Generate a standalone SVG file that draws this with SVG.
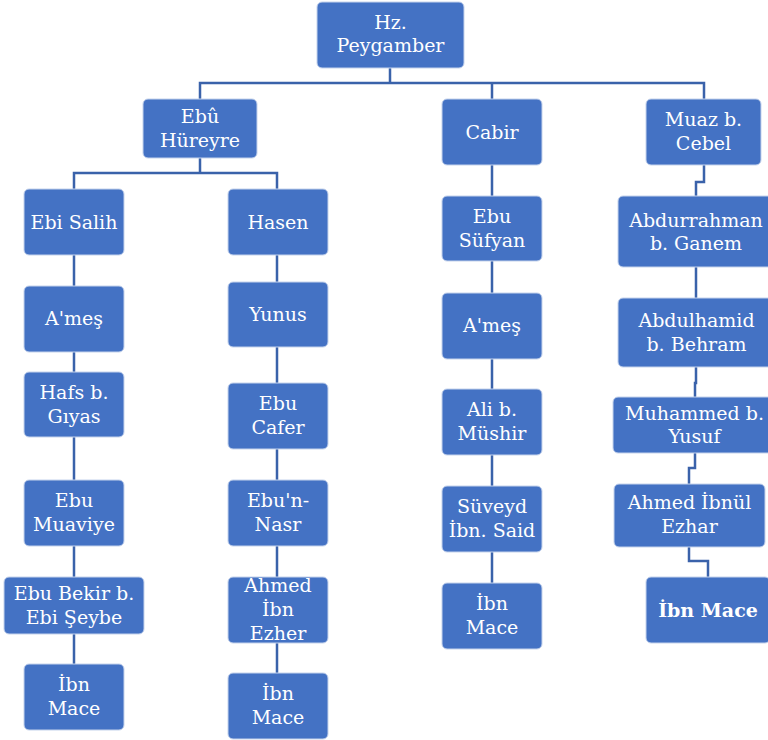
<svg xmlns="http://www.w3.org/2000/svg" width="768" height="740" viewBox="0 0 768 740">
<style>
.b{fill:#4472C4;stroke:#C5D3EC;stroke-width:1}
.t{font-family:"DejaVu Serif","Liberation Serif",serif;font-size:19px;fill:#FFFFFF;text-anchor:middle}
.bold{font-weight:bold}
.c{fill:none;stroke:#3A62AA;stroke-width:2.5}
</style>
<rect width="768" height="740" fill="#FFFFFF"/>
<g id="connectors">
<path class="c" d="M390,68 V83 M200,99 V83 H704 V99 M492,83 V99"/>
<path class="c" d="M200,158 V173 M74,189 V173 H277 V189"/>
<path class="c" d="M74,255 V286 M74,352 V372 M74,437 V480 M74,546 V577 M74,634 V664"/>
<path class="c" d="M277,255 V282 M277,347 V383 M277,449 V480 M277,546 V577 M277,643 V673"/>
<path class="c" d="M492,165 V196 M492,261 V293 M492,359 V389 M492,455 V486 M492,552 V583"/>
<path class="c" d="M704,165 V182 H696 V196 M696,267 V298 M696,367 V383 H695 V397 M695,453 V468 H689 V484 M689,547 V561 H708 V577"/>
</g>
<g id="n_root"><rect class="b" x="317" y="2" width="147" height="66" rx="5"/><text class="t" x="390.5" y="29">Hz.</text><text class="t" x="390.5" y="52">Peygamber</text></g>
<g id="n_ebu_hureyre"><rect class="b" x="143" y="99" width="114" height="59" rx="5"/><text class="t" x="200" y="123">Ebû</text><text class="t" x="200" y="147">Hüreyre</text></g>
<g id="n_cabir"><rect class="b" x="442" y="99" width="100" height="66" rx="5"/><text class="t" x="492" y="139">Cabir</text></g>
<g id="n_muaz"><rect class="b" x="646" y="99" width="115" height="66" rx="5"/><text class="t" x="703.5" y="126">Muaz b.</text><text class="t" x="703.5" y="150">Cebel</text></g>

<g id="n_ebi_salih"><rect class="b" x="24" y="189" width="100" height="66" rx="5"/><text class="t" x="74" y="229">Ebi Salih</text></g>
<g id="n_ames1"><rect class="b" x="24" y="286" width="100" height="66" rx="5"/><text class="t" x="74" y="325">A'meş</text></g>
<g id="n_hafs"><rect class="b" x="24" y="372" width="100" height="65" rx="5"/><text class="t" x="74" y="399">Hafs b.</text><text class="t" x="74" y="423">Gıyas</text></g>
<g id="n_ebu_muaviye"><rect class="b" x="24" y="480" width="100" height="66" rx="5"/><text class="t" x="74" y="507">Ebu</text><text class="t" x="74" y="531">Muaviye</text></g>
<g id="n_ebu_bekir"><rect class="b" x="4" y="577" width="140" height="57" rx="5"/><text class="t" x="74" y="600">Ebu Bekir b.</text><text class="t" x="74" y="624">Ebi Şeybe</text></g>
<g id="n_ibn_mace1"><rect class="b" x="24" y="664" width="100" height="66" rx="5"/><text class="t" x="74" y="691">İbn</text><text class="t" x="74" y="715">Mace</text></g>

<g id="n_hasen"><rect class="b" x="228" y="189" width="100" height="66" rx="5"/><text class="t" x="278" y="229">Hasen</text></g>
<g id="n_yunus"><rect class="b" x="228" y="282" width="100" height="65" rx="5"/><text class="t" x="278" y="321">Yunus</text></g>
<g id="n_ebu_cafer"><rect class="b" x="228" y="383" width="100" height="66" rx="5"/><text class="t" x="278" y="410">Ebu</text><text class="t" x="278" y="434">Cafer</text></g>
<g id="n_ebun_nasr"><rect class="b" x="228" y="480" width="100" height="66" rx="5"/><text class="t" x="278" y="507">Ebu'n-</text><text class="t" x="278" y="531">Nasr</text></g>
<g id="n_ahmed_ibn_ezher"><rect class="b" x="228" y="577" width="100" height="66" rx="5"/><text class="t" x="278" y="592">Ahmed</text><text class="t" x="278" y="616">İbn</text><text class="t" x="278" y="640">Ezher</text></g>
<g id="n_ibn_mace2"><rect class="b" x="228" y="673" width="100" height="66" rx="5"/><text class="t" x="278" y="700">İbn</text><text class="t" x="278" y="724">Mace</text></g>

<g id="n_ebu_sufyan"><rect class="b" x="442" y="196" width="100" height="65" rx="5"/><text class="t" x="492" y="223">Ebu</text><text class="t" x="492" y="247">Süfyan</text></g>
<g id="n_ames2"><rect class="b" x="442" y="293" width="100" height="66" rx="5"/><text class="t" x="492" y="332">A'meş</text></g>
<g id="n_ali"><rect class="b" x="442" y="389" width="100" height="66" rx="5"/><text class="t" x="492" y="416">Ali b.</text><text class="t" x="492" y="440">Müshir</text></g>
<g id="n_suveyd"><rect class="b" x="442" y="486" width="100" height="66" rx="5"/><text class="t" x="492" y="513">Süveyd</text><text class="t" x="492" y="537">İbn. Said</text></g>
<g id="n_ibn_mace3"><rect class="b" x="442" y="583" width="100" height="66" rx="5"/><text class="t" x="492" y="610">İbn</text><text class="t" x="492" y="634">Mace</text></g>

<g id="n_abdurrahman"><rect class="b" x="618" y="196" width="156" height="71" rx="5"/><text class="t" x="696" y="227">Abdurrahman</text><text class="t" x="696" y="250">b. Ganem</text></g>
<g id="n_abdulhamid"><rect class="b" x="618" y="298" width="157" height="69" rx="5"/><text class="t" x="696.5" y="327">Abdulhamid</text><text class="t" x="696.5" y="351">b. Behram</text></g>
<g id="n_muhammed"><rect class="b" x="613" y="397" width="163" height="56" rx="5"/><text class="t" x="694.5" y="420">Muhammed b.</text><text class="t" x="694.5" y="443">Yusuf</text></g>
<g id="n_ahmed_ibnul"><rect class="b" x="614" y="484" width="151" height="63" rx="5"/><text class="t" x="689.5" y="509">Ahmed İbnül</text><text class="t" x="689.5" y="533">Ezhar</text></g>
<g id="n_ibn_mace4"><rect class="b" x="646" y="577" width="124" height="66" rx="5"/><text class="t bold" x="708" y="617">İbn Mace</text></g>
</svg>
